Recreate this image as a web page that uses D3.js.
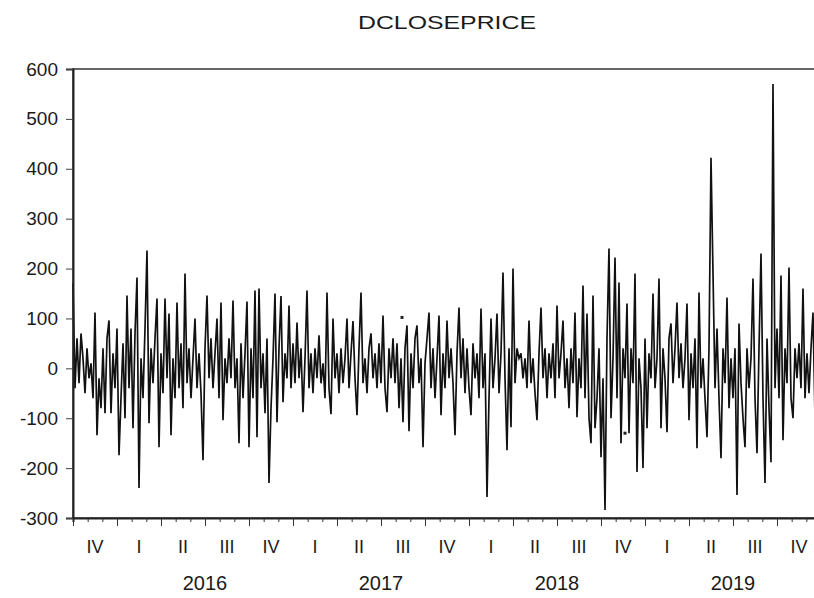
<!DOCTYPE html>
<html>
<head>
<meta charset="utf-8">
<title>DCLOSEPRICE</title>
<script src="https://cdn.jsdelivr.net/npm/d3@7"></script>
<style>
  body { margin: 0; background: #fff; }
  svg text { font-family: "Liberation Sans", Arial, sans-serif; fill: #1a1a1a; }
</style>
</head>
<body>
<div id="chart"></div>
<script>
// daily change of close price, Q4 2015 .. Q4 2019
var dclose = [
  170, -40, 60, -30, 70, 20, -50, 40, -20, 10,
  -60, 112, -134, -20, -80, 40, -90, 60, 96, -90,
  30, -40, 80, -174, -60, 50, -100, 146, -40, 80,
  -120, 70, 182, -240, 20, -60, 80, 236, -110, 40,
  -30, 60, 140, -158, 30, -50, 140, -20, 110, -134,
  20, -60, 132, -40, 50, -80, 190, -30, 40, -60,
  20, 100, -40, 30, -50, -184, 40, 146, -20, 60,
  -40, 30, 100, -60, 132, -104, 20, -30, 60, -20,
  136, -40, 20, -150, 50, -60, 30, 134, -158, 40,
  -60, 156, -138, 160, -40, 30, -90, 60, -230, -80,
  20, 150, -108, 40, 145, -68, 30, -20, 126, -40,
  50, -30, 92, -20, 40, -88, 20, 156, -40, 30,
  -50, 40, -20, 66, -30, 10, -60, 152, -40, -92,
  100, -20, 30, -50, 40, -30, 20, 100, -40, 30,
  95, -20, -94, 40, 152, -30, 20, -50, 40, 70,
  -20, 30, -40, 50, -30, 106, -40, -88, 40, -20,
  60, -30, 50, -80, 20, -108, 40, 86, -126, 30,
  -40, 60, 86, -30, 20, -158, 10, 60, 112, -40,
  40, -60, 20, 106, -94, 30, -40, 96, -20, 40,
  -30, -134, 30, 122, -20, 60, -50, 40, -40, -94,
  50, -20, 30, -60, 120, -40, 30, -258, -60, 100,
  -40, 20, 110, -50, 30, 192, -20, -164, 40, -118,
  200, -30, 40, 20, 30, -20, 20, -40, 96, -30,
  20, -50, -104, 30, 122, -20, 40, -60, 30, -20,
  50, -60, 126, -20, 30, 96, -40, 20, -80, 40,
  -30, 112, -98, 20, -40, 166, -60, 110, -100, -150,
  146, -120, -60, 40, -178, -20, -284, 60, 240, -100,
  20, 222, -60, 172, -150, 40, -20, 130, -130, 40,
  -30, 190, -208, 20, -40, -200, 60, -120, 30, -20,
  150, -40, 20, 180, -120, 40, -20, -128, 60, 90,
  -30, 40, 132, -20, 50, -40, 20, 130, -104, 30,
  -40, 60, -160, 152, -40, 20, -60, -138, 40, 422,
  190, -40, 80, -60, -180, 40, -30, 142, -80, 20,
  -60, 40, -254, 90, -30, -100, -158, 40, -40, 20,
  180, -60, -170, 40, 230, -60, -230, 60, -80, -188,
  570, -40, 80, -60, 186, -144, 40, -30, 202, -60,
  -100, 40, -20, 50, -40, 160, -60, 30, -50, 40,
  112, -96, 30, -20, 20
];

// isolated observations drawn as dots: [index, value]
var loneDots = [[164.5, 102], [276, -130]];

var quarterNames = ['IV', 'I', 'II', 'III', 'IV', 'I', 'II', 'III', 'IV',
                    'I', 'II', 'III', 'IV', 'I', 'II', 'III', 'IV'];
var years = ['2016', '2017', '2018', '2019'];
var yTicks = [-300, -200, -100, 0, 100, 200, 300, 400, 500, 600];

var margin = {top: 69, left: 73};
var width = 748, height = 449;

var svg = d3.select('#chart').append('svg')
    .attr('width', 814)
    .attr('height', 598);

svg.append('text')
    .attr('x', margin.left + width / 2)
    .attr('y', 29)
    .attr('text-anchor', 'middle')
    .attr('textLength', 178)
    .attr('lengthAdjust', 'spacingAndGlyphs')
    .style('font-size', '18px')
    .text('DCLOSEPRICE');

var g = svg.append('g')
    .attr('transform', 'translate(' + margin.left + ',' + margin.top + ')');

// x runs in quarters from the start of 2015Q4
var nq = quarterNames.length;
var x = d3.scaleLinear().domain([0, nq]).range([0, width]);
var idx = d3.scaleLinear().domain([0, dclose.length - 1]).range([0, nq]);
var y = d3.scaleLinear().domain([-300, 600]).range([height, 0]);

// frame
g.append('rect')
    .attr('width', width)
    .attr('height', height)
    .style('fill', 'none')
    .style('stroke', '#666')
    .style('stroke-width', 2);

var line = d3.line()
    .x((d, i) => x(idx(i)))
    .y(d => y(d));

g.append('path')
    .datum(dclose)
    .attr('d', line)
    .style('fill', 'none')
    .style('stroke', '#111')
    .style('stroke-width', 1.7)
    .style('stroke-linejoin', 'miter');

g.selectAll('rect.dot')
    .data(loneDots)
  .enter().append('rect')
    .attr('class', 'dot')
    .attr('x', d => x(idx(d[0])) - 1.5)
    .attr('y', d => y(d[1]) - 1.5)
    .attr('width', 3)
    .attr('height', 3)
    .style('fill', '#222');

// y axis
var yAxis = d3.axisLeft(y)
    .tickValues(yTicks)
    .tickSize(7)
    .tickPadding(8)
    .tickFormat(d => String(d));

var gy = g.append('g').call(yAxis);
gy.select('.domain').style('stroke', '#222').style('stroke-width', 2);
gy.selectAll('.tick line').style('stroke', '#444');
gy.selectAll('.tick text')
    .style('font-size', '19px')
    .style('font-family', '"Liberation Sans", Arial, sans-serif')
    .attr('fill', '#1a1a1a');

// x axis: month ticks and longer quarter ticks
var monthTicks = d3.range(0, nq * 3 + 1).map(m => m / 3);
var xMinor = d3.axisBottom(x).tickValues(monthTicks).tickSize(4).tickFormat('');
var gxm = g.append('g').attr('transform', 'translate(0,' + height + ')').call(xMinor);
gxm.select('.domain').style('stroke', '#222').style('stroke-width', 2);
gxm.selectAll('.tick line').style('stroke', '#333');

var xMajor = d3.axisBottom(x).tickValues(d3.range(0, nq + 1)).tickSize(8).tickFormat('');
var gxq = g.append('g').attr('transform', 'translate(0,' + height + ')').call(xMajor);
gxq.select('.domain').remove();
gxq.selectAll('.tick line').style('stroke', '#333');

g.selectAll('text.qlab')
    .data(quarterNames)
  .enter().append('text')
    .attr('class', 'qlab')
    .attr('x', (d, i) => x(i + 0.5))
    .attr('y', height + 35)
    .attr('text-anchor', 'middle')
    .style('font-size', '18px')
    .text(d => d);

g.selectAll('text.ylab')
    .data(years)
  .enter().append('text')
    .attr('class', 'ylab')
    .attr('x', (d, i) => x(1 + i * 4 + 2))
    .attr('y', height + 72)
    .attr('text-anchor', 'middle')
    .style('font-size', '20px')
    .text(d => d);
</script>
</body>
</html>
